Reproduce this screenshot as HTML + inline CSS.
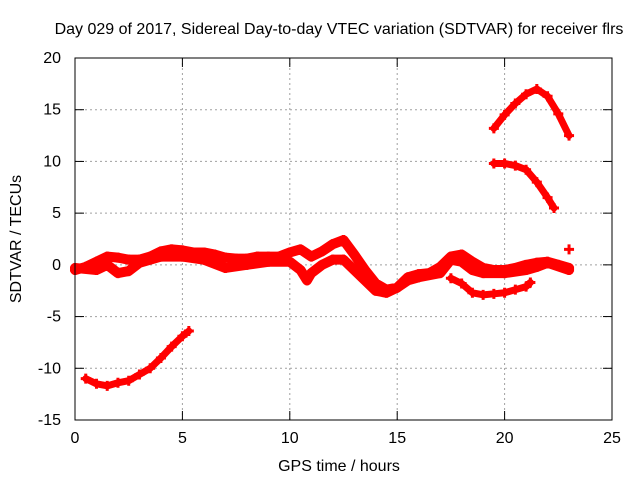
<!DOCTYPE html>
<html><head><meta charset="utf-8"><style>
body{margin:0;background:#fff}
svg text{font-family:"Liberation Sans",sans-serif;font-size:16px;fill:#000}
</style></head><body>
<svg id="chart" width="640" height="480">
<text x="339" y="34" text-anchor="middle">Day 029 of 2017, Sidereal Day-to-day VTEC variation (SDTVAR) for receiver flrs</text>
<text x="339" y="471" text-anchor="middle">GPS time / hours</text>
<text transform="translate(21,239) rotate(-90)" text-anchor="middle">SDTVAR / TECUs</text>
<g id="grid"></g><g id="ticks"></g><g id="series"></g>
<rect x="75" y="58" width="537" height="362" fill="none" stroke="#000" stroke-width="1"/>
</svg>
<script>
const xTicks=[0,5,10,15,20,25];
const yTicks=[-15,-10,-5,0,5,10,15,20];
const sA_x=[0.5,1,1.5,2,2.5,3,3.5,4,4.5,5,5.3];
const sA_y=[-11,-11.5,-11.7,-11.4,-11.2,-10.6,-10,-9,-7.9,-6.9,-6.4];
const sB_x=[19.5,20,20.5,21,21.5,22,22.5,23];
const sB_y=[13.2,14.5,15.6,16.5,17,16.3,14.6,12.5];
const sC_x=[19.5,20,20.5,21,21.5,22,22.3];
const sC_y=[9.8,9.8,9.6,9.2,8,6.5,5.5];
const sD_x=[17.5,18,18.5,19,19.5,20,20.5,21,21.2];
const sD_y=[-1.3,-1.8,-2.7,-2.9,-2.8,-2.7,-2.4,-2.1,-1.7];
const sE_x=[0,0.5,1,1.5,2,2.5,3,3.5,4,4.5,5,5.5,6,6.5,7,7.5,8,8.5,9,9.5,10,10.5,11,11.5,12,12.5,13,13.5,14,14.5,15,15.5,16,16.5,17,17.5,18,18.5,19,19.5,20,20.5,21,21.5,22,22.5,23];
const sE_y=[-0.5,-0.2,0.3,0.8,0.7,0.5,0.5,0.8,1.3,1.5,1.4,1.2,1.2,1,0.7,0.6,0.6,0.8,0.8,0.8,1.2,1.5,0.8,1.3,2,2.4,1,-0.5,-1.8,-2.4,-2.2,-1.2,-0.9,-0.8,-0.2,0.8,1,0.3,-0.3,-0.5,-0.5,-0.3,0,0.2,0.3,0,-0.3];
const sF_x=[0,1,1.5,2,2.5,3,4,5,6,7,8,9,10,10.5,10.8,11,11.5,12,12.5,13,13.5,14,14.5,15,15.5,16,17,17.5,18,18.5,19,20,21,21.5,22,23];
const sF_y=[-0.3,-0.5,0,-0.8,-0.6,0.2,0.8,0.8,0.5,-0.3,0,0.3,0.3,-0.5,-1.5,-0.8,0,0.5,0.5,-0.5,-1.5,-2.5,-2.7,-2.2,-1.5,-1.2,-0.8,0.5,0.3,-0.5,-0.8,-0.8,-0.5,-0.2,0.2,-0.5];
const sG_x=[23];
const sG_y=[1.5];
const X=v=>75+(v-0)*537/25;
const Y=v=>420-(v+15)*362/35;
const NS="http://www.w3.org/2000/svg";
const grid=document.getElementById('grid'),ticks=document.getElementById('ticks'),ser=document.getElementById('series');
function mk(t,a,p){const e=document.createElementNS(NS,t);for(const k in a)e.setAttribute(k,a[k]);p.appendChild(e);return e;}
xTicks.forEach(v=>{const x=X(v);
 if(v>0&&v<25){const g=mk('line',{x1:x,x2:x,y1:58,y2:420,stroke:'#a0a0a0','stroke-dasharray':'2,3'},grid);
 
 }
 mk('line',{x1:x,x2:x,y1:420,y2:411,stroke:'#000'},ticks);mk('line',{x1:x,x2:x,y1:58,y2:67,stroke:'#000'},ticks);
 const t=mk('text',{x:x,y:443,'text-anchor':'middle'},ticks);t.textContent=v;
 
 });
yTicks.forEach(v=>{const y=Y(v);
 if(v>-15&&v<20){const g=mk('line',{x1:75,x2:612,y1:y,y2:y,stroke:'#a0a0a0','stroke-dasharray':'2,3'},grid);
 
 }
 mk('line',{x1:75,x2:84,y1:y,y2:y,stroke:'#000'},ticks);mk('line',{x1:612,x2:603,y1:y,y2:y,stroke:'#000'},ticks);
 const t=mk('text',{x:61,y:y+5,'text-anchor':'end'},ticks);t.textContent=v;
 
 });
function draw(xs,ys,name,w){
 const g=mk('g',{},ser);
 
 
 if(xs.length>1)mk('polyline',{points:xs.map((x,i)=>X(x)+','+Y(ys[i])).join(' '),fill:'none',stroke:'#ff0000','stroke-width':w,'stroke-linejoin':'round','stroke-linecap':'round'},g);
 xs.forEach((x,i)=>{const cx=X(x),cy=Y(ys[i]);
  mk('path',{d:`M${cx-5},${cy}H${cx+5}M${cx},${cy-5}V${cy+5}`,stroke:'#ff0000','stroke-width':3},g);});
}
draw(sA_x,sA_y,'series-low-left',7);
draw(sB_x,sB_y,'series-high-arc',7);
draw(sC_x,sC_y,'series-mid-arc',7);
draw(sD_x,sD_y,'series-lower-right',7);
draw(sE_x,sE_y,'series-main-upper',10);
draw(sF_x,sF_y,'series-main-lower',10);
draw(sG_x,sG_y,'series-single-point',7);
</script>
</body></html>
